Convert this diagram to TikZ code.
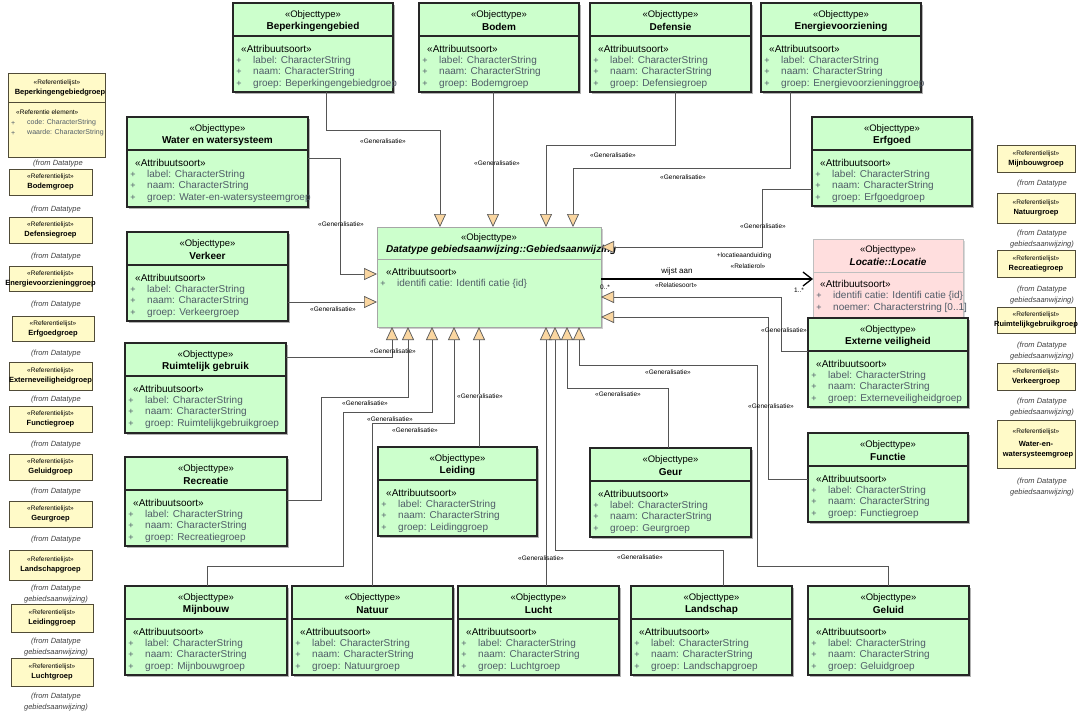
\documentclass[tikz,border=0pt]{standalone}
\usepackage{fontspec}
\setmainfont{Liberation Sans}
\usetikzlibrary{arrows.meta,shadows}
\definecolor{objgreen}{RGB}{204,255,204}
\definecolor{locpink}{RGB}{255,222,222}
\definecolor{refyel}{RGB}{255,250,200}
\definecolor{refbord}{RGB}{80,75,55}
\definecolor{trifill}{RGB}{250,214,160}
\definecolor{attrcol}{RGB}{80,92,104}
\definecolor{linecol}{RGB}{85,85,85}
\tikzset{
  obj/.style={draw=black!85,line width=1.1pt,fill=objgreen,anchor=north west,inner sep=0pt,outer sep=0pt,
    drop shadow={shadow xshift=1.5pt,shadow yshift=-1.5pt,opacity=0.3,fill=black}},
  cent/.style={draw=black!35,line width=0.8pt,fill=objgreen,anchor=north west,inner sep=0pt,outer sep=0pt,
    drop shadow={shadow xshift=1.5pt,shadow yshift=-1.5pt,opacity=0.2,fill=black}},
  loc/.style={draw=black!25,line width=0.8pt,fill=locpink,anchor=north west,inner sep=0pt,outer sep=0pt,
    drop shadow={shadow xshift=1.5pt,shadow yshift=-1.5pt,opacity=0.15,fill=black}},
  reflst/.style={draw=refbord,line width=0.9pt,fill=refyel,anchor=north west,inner sep=0pt,outer sep=0pt,
    drop shadow={shadow xshift=1.2pt,shadow yshift=-1.2pt,opacity=0.3,fill=black}},
  divl/.style={draw=black!85,line width=1.1pt},
  stt/.style={inner sep=0pt,font=\fontsize{9.5}{11}\selectfont},
  ttl/.style={inner sep=0pt,font=\fontsize{10}{12}\selectfont\bfseries},
  ast/.style={inner sep=0pt,anchor=west,font=\fontsize{10}{12}\selectfont},
  atv/.style={inner sep=0pt,anchor=west,text=attrcol,font=\fontsize{10}{12}\selectfont},
  pls/.style={inner sep=0pt,text=attrcol,font=\fontsize{9}{11}\selectfont},
  gen/.style={draw=linecol,line width=0.7pt,-{Triangle[length=13pt,width=12pt,fill=trifill]}},
  glab/.style={inner sep=0pt,font=\fontsize{6.5}{8}\selectfont},
  rst/.style={inner sep=0pt,font=\fontsize{6.5}{8}\selectfont},
  rtl/.style={inner sep=0pt,font=\fontsize{7.5}{9}\selectfont\bfseries},
  rfrom/.style={inner sep=0pt,text=black!75,font=\fontsize{7.5}{9}\selectfont\itshape},
  ratv/.style={inner sep=0pt,anchor=west,text=attrcol,font=\fontsize{7}{8}\selectfont},
}
% object type box: id, x, y, w, h, title, groep
\newcommand\objbox[7]{%
  \node[obj,minimum width=#4pt,minimum height=#5pt] (#1) at (#2,#3) {};
  \draw[divl] (#2,#3+33) -- (#2+#4,#3+33);
  \node[stt] (#1-s) at (#2+#4/2,#3+12) {«Objecttype»};
  \node[ttl] (#1-t) at (#2+#4/2,#3+24) {#6};
  \node[ast] (#1-a) at (#2+8,#3+46) {«Attribuutsoort»};
  \node[pls] (#1-p1) at (#2+6,#3+58) {+};
  \node[pls] (#1-p2) at (#2+6,#3+69) {+};
  \node[pls] (#1-p3) at (#2+6,#3+81) {+};
  \node[atv] (#1-l) at (#2+20,#3+58) {label: CharacterString};
  \node[atv] (#1-n) at (#2+20,#3+69) {naam: CharacterString};
  \node[atv] (#1-g) at (#2+20,#3+81) {groep: #7};
}
% referentielijst box: id, x, y, w, h, title
\newcommand\reflbox[6]{%
  \node[reflst,minimum width=#4pt,minimum height=#5pt] (#1) at (#2,#3) {};
  \node[rst] (#1-s) at (#2+#4/2,#3+#5/2-5) {«Referentielijst»};
  \node[rtl] (#1-t) at (#2+#4/2,#3+#5/2+5) {#6};
}
% from text, two lines: id, x centre, y1, y2
\newcommand\fromtxt[4]{%
  \node[rfrom] (#1-f1) at (#2,#3) {(from Datatype};
  \node[rfrom] (#1-f2) at (#2,#4) {gebiedsaanwijzing)};
}
% from text, first line only (second hidden behind next box): id, x, y
\newcommand\fromone[3]{%
  \node[rfrom] (#1-f1) at (#2,#3) {(from Datatype};
}
\begin{document}
\begin{tikzpicture}[x=1pt,y=-1pt]
\useasboundingbox[fill=white] (0,0) rectangle (1085,715);

% ---------- left referentielijst column ----------
\node[reflst,minimum width=97pt,minimum height=84pt] (bepg) at (8,73) {};
\draw[draw=refbord,line width=0.9pt] (8,102) -- (105,102);
\node[rst] (bepg-s) at (57,83) {«Referentielijst»};
\node[rtl] (bepg-t) at (60,93) {Beperkingengebiedgroep};
\node[rst,anchor=west] (bepg-a) at (16,112) {«Referentie element»};
\node[ratv] (bepg-p1) at (11,123) {+};
\node[ratv] (bepg-p2) at (11,133) {+};
\node[ratv] (bepg-c) at (27,123) {code: CharacterString};
\node[ratv] (bepg-w) at (27,133) {waarde: CharacterString};
\node[rfrom] (bepg-f1) at (58,164) {(from Datatype};
\node[rfrom] (bepg-f2) at (60,176) {gebiedsaanwijzing)};
\reflbox{bodg}{9}{169}{83}{26}{Bodemgroep}
\fromone{bodg}{56}{210}
\reflbox{defg}{9}{217}{83}{26}{Defensiegroep}
\fromone{defg}{56}{257}
\reflbox{eneg}{9}{266}{83}{25}{Energievoorzieninggroep}
\fromone{eneg}{56}{305}
\reflbox{erfg}{12}{316}{82}{25}{Erfgoedgroep}
\fromone{erfg}{56}{354}
\reflbox{extg}{9}{362}{83}{28}{Externeveiligheidgroep}
\fromone{extg}{56}{400}
\reflbox{fung}{9}{406}{83}{26}{Functiegroep}
\fromone{fung}{56}{445}
\reflbox{gelg}{9}{454}{83}{26}{Geluidgroep}
\fromone{gelg}{56}{492}
\reflbox{geug}{9}{501}{83}{26}{Geurgroep}
\fromone{geug}{56}{540}
\reflbox{lang}{9}{550}{83}{30}{Landschapgroep}
\fromtxt{lang}{56}{589}{600}
\reflbox{leig}{11}{604}{82}{28}{Leidinggroep}
\fromtxt{leig}{56}{642}{653}
\reflbox{lucg}{11}{658}{82}{28}{Luchtgroep}
\fromtxt{lucg}{56}{697}{708}

% ---------- right referentielijst column ----------
\reflbox{mijg}{997}{145}{78}{27}{Mijnbouwgroep}
\fromone{mijg}{1042}{184}
\reflbox{natg}{997}{193}{78}{30}{Natuurgroep}
\fromtxt{natg}{1042}{234}{245}
\reflbox{recg}{997}{250}{78}{27}{Recreatiegroep}
\fromtxt{recg}{1042}{290}{301}
\reflbox{ruig}{997}{307}{78}{26}{Ruimtelijkgebruikgroep}
\fromtxt{ruig}{1042}{346}{357}
\reflbox{verg}{997}{363}{78}{27}{Verkeergroep}
\fromtxt{verg}{1042}{402}{413}
\node[reflst,minimum width=78pt,minimum height=48pt] (watg) at (997,420) {};
\node[rst] (watg-s) at (1036,432) {«Referentielijst»};
\node[rtl] (watg-t1) at (1036,444) {Water-en-};
\node[rtl] (watg-t2) at (1038,455) {watersysteemgroep};
\fromtxt{watg}{1042}{482}{493}

% ---------- central and Locatie boxes ----------
\node[cent,minimum width=224pt,minimum height=100pt] (c) at (377,227) {};
\draw[draw=black!35,line width=0.8pt] (377,259) -- (601,259);
\node[stt] (c-s) at (489,238) {«Objecttype»};
\node[inner sep=0pt,anchor=west,font=\fontsize{10}{12}\selectfont\bfseries\itshape] (c-t) at (386,250) {Datatype gebiedsaanwijzing::Gebiedsaanwijzing};
\node[ast] (c-a) at (386,272) {«Attribuutsoort»};
\node[pls] (c-p) at (383,284) {+};
\node[atv] (c-i) at (397,284) {identifi catie: Identifi catie \{id\}};

\node[loc,minimum width=150pt,minimum height=80pt] (loc) at (813,239) {};
\draw[draw=black!25,line width=0.8pt] (813,272) -- (963,272);
\node[stt] (loc-s) at (888,250) {«Objecttype»};
\node[inner sep=0pt,font=\fontsize{10}{12}\selectfont\bfseries\itshape] (loc-t) at (888,262) {Locatie::Locatie};
\node[ast] (loc-a) at (820,284) {«Attribuutsoort»};
\node[pls] (loc-p1) at (819,296) {+};
\node[pls] (loc-p2) at (819,308) {+};
\node[atv] (loc-i) at (833,296) {identifi catie: Identifi catie \{id\}};
\node[atv] (loc-n) at (833,308) {noemer: Characterstring [0..1]};

% ---------- object type boxes ----------
\objbox{bep}{233}{3}{160}{89}{Beperkingengebied}{Beperkingengebiedgroep}
\objbox{bod}{419}{3}{160}{89}{Bodem}{Bodemgroep}
\objbox{def}{590}{3}{161}{89}{Defensie}{Defensiegroep}
\objbox{ene}{761}{3}{160}{89}{Energievoorziening}{Energievoorzieninggroep}
\objbox{wat}{127}{117}{181}{90}{Water en watersysteem}{Water-en-watersysteemgroep}
\objbox{ver}{127}{232}{161}{89}{Verkeer}{Verkeergroep}
\objbox{rui}{125}{343}{161}{90}{Ruimtelijk gebruik}{Ruimtelijkgebruikgroep}
\objbox{rec}{125}{457}{162}{89}{Recreatie}{Recreatiegroep}
\objbox{erf}{812}{117}{160}{89}{Erfgoed}{Erfgoedgroep}
\objbox{ext}{808}{318}{160}{89}{Externe veiligheid}{Externeveiligheidgroep}
\objbox{fun}{808}{433}{160}{89}{Functie}{Functiegroep}
\objbox{lei}{378}{447}{159}{89}{Leiding}{Leidinggroep}
\objbox{geu}{590}{448}{161}{89}{Geur}{Geurgroep}
\objbox{mij}{125}{586}{162}{89}{Mijnbouw}{Mijnbouwgroep}
\objbox{nat}{292}{586}{161}{89}{Natuur}{Natuurgroep}
\objbox{luc}{458}{586}{161}{89}{Lucht}{Luchtgroep}
\objbox{lan}{631}{586}{161}{89}{Landschap}{Landschapgroep}
\objbox{gel}{808}{586}{161}{89}{Geluid}{Geluidgroep}

% ---------- generalisation connectors ----------
\draw[gen] (326,0 |- bep.south) |- (440,130) -- (440,0 |- c.north);
\draw[gen] (493,0 |- bod.south) -- (493,0 |- c.north);
\draw[gen] (675,0 |- def.south) |- (546,145) -- (546,0 |- c.north);
\draw[gen] (790,0 |- ene.south) |- (573,168) -- (573,0 |- c.north);
\draw[gen] (wat.east |- 0,158) -| (340,274) -- (c.west |- 0,274);
\draw[gen] (ver.east |- 0,302) -- (c.west |- 0,302);
\draw[gen] (erf.west |- 0,189) -| (762,247) -- (c.east |- 0,247);
\draw[gen] (ext.west |- 0,351) -| (781,297) -- (c.east |- 0,297);
\draw[gen] (fun.west |- 0,479) -| (768,317) -- (c.east |- 0,317);
\draw[gen] (rui.east |- 0,357) -| (392,0 |- c.south);
\draw[gen] (rec.east |- 0,500) -| (321,397) -| (408,0 |- c.south);
\draw[gen] (207,0 |- mij.north) |- (343,566) |- (432,412) -- (432,0 |- c.south);
\draw[gen] (372,0 |- nat.north) |- (454,423) -- (454,0 |- c.south);
\draw[gen] (479,0 |- lei.north) -- (479,0 |- c.south);
\draw[gen] (546,0 |- luc.north) -- (546,0 |- c.south);
\draw[gen] (723,0 |- lan.north) |- (555,550) -- (555,0 |- c.south);
\draw[gen] (668,0 |- geu.north) |- (567,388) -- (567,0 |- c.south);
\draw[gen] (888,0 |- gel.north) |- (757,566) |- (579,365) -- (579,0 |- c.south);

% ---------- association ----------
\draw[black,line width=1.3pt,-{Straight Barb[length=9pt,width=14pt,line width=1.3pt]}] (c.east |- loc.west) -- (loc.west);

% ---------- labels ----------
\node[glab] (g1) at (383,141) {«Generalisatie»};
\node[glab] (g2) at (497,163) {«Generalisatie»};
\node[glab] (g3) at (613,155) {«Generalisatie»};
\node[glab] (g4) at (683,177) {«Generalisatie»};
\node[glab] (g5) at (341,224) {«Generalisatie»};
\node[glab] (g6) at (333,309) {«Generalisatie»};
\node[glab] (g7) at (763,226) {«Generalisatie»};
\node[glab] (g8) at (784,330) {«Generalisatie»};
\node[glab] (g9) at (771,406) {«Generalisatie»};
\node[glab] (g10) at (393,351) {«Generalisatie»};
\node[glab] (g11) at (365,403) {«Generalisatie»};
\node[glab] (g12) at (390,419) {«Generalisatie»};
\node[glab] (g13) at (415,430) {«Generalisatie»};
\node[glab,fill=white] (g14) at (480,396) {«Generalisatie»};
\node[glab] (g15) at (541,558) {«Generalisatie»};
\node[glab] (g16) at (640,557) {«Generalisatie»};
\node[glab] (g17) at (618,394) {«Generalisatie»};
\node[glab] (g18) at (668,372) {«Generalisatie»};

\node[inner sep=0pt,font=\fontsize{8}{9}\selectfont] (wa) at (677,271) {wijst aan};
\node[glab] (rs) at (676,285) {«Relatiesoort»};
\node[glab] (m0) at (605,287) {0..*};
\node[glab] (m1) at (799,290) {1..*};
\node[glab] (rla) at (744,256) {+locatieaanduiding};
\node[glab] (rlr) at (748,266) {«Relatierol»};
\end{tikzpicture}
\end{document}
